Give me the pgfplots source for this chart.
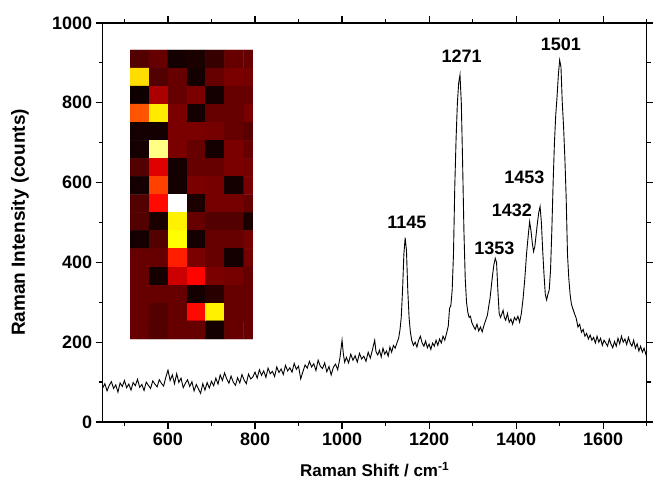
\documentclass[border=0pt]{standalone}
\usepackage{fontspec}
\setmainfont{Liberation Sans}
\usepackage{pgfplots}
\pgfplotsset{compat=1.18}

% spectrum
\pgfplotstableread{
x y
450 85
455 96
460 78
465 92
470 101
475 84
480 93
485 75
490 98
495 89
500 104
505 86
510 95
515 80
520 99
525 91
530 107
535 87
540 94
545 79
550 100
555 92
560 84
565 103
570 95
575 88
580 106
585 97
590 90
595 112
600 130
605 104
610 118
615 96
620 121
625 99
630 110
635 86
640 97
645 106
650 89
655 101
660 78
665 94
670 83
675 72
680 96
685 80
690 99
695 85
700 102
705 91
710 110
715 95
720 118
725 104
730 123
735 108
740 97
745 115
750 100
755 92
760 111
765 98
770 119
775 105
780 96
785 120
790 108
795 113
800 125
805 110
810 131
815 117
820 128
825 112
830 135
835 121
840 127
845 114
850 138
855 124
860 133
865 119
870 142
875 128
880 136
885 125
890 147
895 132
900 140
905 108
910 126
915 143
920 135
925 152
930 138
935 146
940 129
945 155
950 140
955 134
960 148
965 126
970 139
975 118
980 137
985 145
990 131
995 160
1000 205
1003 170
1006 150
1010 162
1015 148
1020 170
1025 155
1030 166
1035 150
1040 172
1045 158
1050 165
1055 152
1060 175
1065 160
1070 182
1075 205
1078 176
1082 168
1086 180
1090 163
1094 185
1098 170
1102 178
1106 165
1110 188
1114 175
1118 192
1122 185
1126 198
1130 210
1133 230
1136 262
1139 330
1142 420
1145 462
1148 430
1151 330
1154 262
1157 225
1160 205
1164 192
1168 200
1172 188
1176 205
1180 215
1184 198
1188 190
1192 203
1196 186
1200 195
1204 182
1208 198
1212 190
1216 205
1220 192
1224 208
1228 198
1232 215
1236 205
1240 222
1244 240
1247 285
1250 292
1253 330
1256 420
1259 590
1262 710
1265 800
1268 850
1271 870
1274 800
1277 650
1280 480
1283 360
1286 300
1289 275
1292 262
1295 265
1298 250
1302 240
1306 232
1310 245
1314 228
1318 238
1322 226
1326 242
1330 255
1334 268
1337 290
1340 310
1343 340
1346 370
1349 395
1352 410
1355 400
1358 330
1361 272
1364 262
1367 270
1370 280
1373 262
1376 255
1380 272
1384 250
1388 258
1392 245
1396 262
1400 255
1404 265
1408 250
1412 272
1416 310
1420 360
1424 423
1428 470
1431 502
1434 480
1437 450
1440 427
1443 440
1446 470
1449 500
1452 525
1455 540
1458 500
1461 430
1464 370
1467 320
1470 306
1473 320
1476 331
1479 380
1482 480
1485 600
1488 700
1491 770
1494 815
1497 870
1500 907
1503 890
1506 800
1509 740
1512 660
1515 560
1518 420
1521 360
1524 320
1527 295
1530 285
1534 272
1538 260
1542 238
1546 245
1550 225
1554 232
1558 215
1562 222
1566 208
1570 218
1574 205
1578 212
1582 198
1586 215
1590 200
1594 210
1598 192
1602 205
1606 198
1610 190
1614 208
1618 195
1622 186
1626 202
1630 190
1634 210
1638 196
1642 215
1646 200
1650 208
1654 194
1658 212
1662 198
1666 190
1670 205
1674 185
1678 196
1682 178
1686 190
1690 175
1694 185
1698 170
1700 178
}\spectrum

% inset map, row 0 at the top
\pgfplotstableread{
x y c
0 0 0.12
1 0 0.15
2 0 0.03
3 0 0.04
4 0 0.08
5 0 0.15
6 0 0.15
0 1 0.70
1 1 0.12
2 1 0.15
3 1 0.03
4 1 0.15
5 1 0.18
6 1 0.17
0 2 0.02
1 2 0.25
2 2 0.15
3 2 0.18
4 2 0.03
5 2 0.15
6 2 0.15
0 3 0.50
1 3 0.72
2 3 0.18
3 3 0.03
4 3 0.15
5 3 0.15
6 3 0.18
0 4 0.03
1 4 0.03
2 4 0.18
3 4 0.18
4 4 0.17
5 4 0.15
6 4 0.13
0 5 0.03
1 5 0.88
2 5 0.18
3 5 0.15
4 5 0.03
5 5 0.18
6 5 0.15
0 6 0.12
1 6 0.33
2 6 0.03
3 6 0.15
4 6 0.15
5 6 0.18
6 6 0.17
0 7 0.03
1 7 0.47
2 7 0.03
3 7 0.18
4 7 0.17
5 7 0.03
6 7 0.18
0 8 0.12
1 8 0.39
2 8 1.00
3 8 0.04
4 8 0.17
5 8 0.17
6 8 0.15
0 9 0.12
1 9 0.04
2 9 0.73
3 9 0.15
4 9 0.12
5 9 0.12
6 9 0.04
0 10 0.03
1 10 0.12
2 10 0.75
3 10 0.03
4 10 0.15
5 10 0.15
6 10 0.17
0 11 0.15
1 11 0.15
2 11 0.42
3 11 0.18
4 11 0.15
5 11 0.03
6 11 0.17
0 12 0.15
1 12 0.03
2 12 0.30
3 12 0.38
4 12 0.18
5 12 0.17
6 12 0.15
0 13 0.15
1 13 0.15
2 13 0.15
3 13 0.03
4 13 0.06
5 13 0.15
6 13 0.15
0 14 0.15
1 14 0.12
2 14 0.15
3 14 0.39
4 14 0.73
5 14 0.15
6 14 0.15
0 15 0.15
1 15 0.12
2 15 0.15
3 15 0.15
4 15 0.03
5 15 0.15
6 15 0.15
}\mapdata

\begin{document}
\begin{tikzpicture}
\pgfplotsset{colormap={hotmap}{rgb(0cm)=(0,0,0); rgb(3cm)=(1,0,0); rgb(6cm)=(1,1,0); rgb(8cm)=(1,1,1)}}
\begin{axis}[
    at={(102.7bp,66bp)}, anchor=south west,
    scale only axis, width=544bp, height=399bp,
    xmin=450, xmax=1700, ymin=0, ymax=1000,
    xtick={600,800,...,1600}, minor xtick={500,700,...,1700},
    ytick={0,200,...,1000}, minor ytick={100,300,...,900},
    xtick align=outside, ytick align=outside,
    major tick length=7bp, minor tick length=4bp,
    axis line style={line width=1.4bp},
    tick style={black, line width=1.2bp},
    /pgf/number format/assume math mode=true,
    /pgf/number format/1000 sep={},
    tick label style={font=\bfseries\fontsize{18bp}{21bp}\selectfont},
    xlabel={Raman Shift / cm\textsuperscript{-1}},
    ylabel={Raman Intensity (counts)},
    every axis x label/.style={at={(axis description cs:0.5,-0.12)}, anchor=center,
        font=\bfseries\fontsize{17bp}{20bp}\selectfont},
    every axis y label/.style={at={(axis description cs:-0.152,0.5)}, rotate=90, anchor=center,
        font=\bfseries\fontsize{19bp}{22bp}\selectfont},
    clip=false,
]
\addplot[black, line width=0.9bp] table[x=x, y=y] {\spectrum};
\begin{scope}[every node/.style={font=\bfseries\fontsize{18bp}{21bp}\selectfont}]
\node at (axis cs:1149,501) {1145};
\node at (axis cs:1275,916) {1271};
\node at (axis cs:1503,947) {1501};
\node at (axis cs:1419,612) {1453};
\node at (axis cs:1390,530) {1432};
\node at (axis cs:1350,435) {1353};
\end{scope}
\end{axis}
\begin{axis}[
    at={(130bp,149bp)}, anchor=south west,
    scale only axis, width=123bp, height=289bp,
    hide axis, enlargelimits=false,
    xmin=-0.5, xmax=6.0, ymin=-0.5, ymax=15.5, y dir=reverse,
    colormap name=hotmap, point meta min=0, point meta max=1,
]
\addplot[matrix plot*, mesh/cols=7, point meta=explicit] table[x=x, y=y, meta=c] {\mapdata};
\end{axis}
\pgfresetboundingbox
\path (0,0) rectangle (653bp,488bp);
\end{tikzpicture}
\end{document}
